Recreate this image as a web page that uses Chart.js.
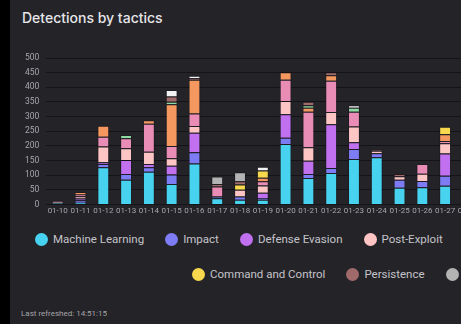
<!DOCTYPE html>
<html>
<head>
<meta charset="utf-8">
<script src="https://cdn.jsdelivr.net/npm/chart.js@4.4.1/dist/chart.umd.min.js"></script>
<style>
  html, body { margin: 0; padding: 0; background: #000; width: 461px; height: 324px; overflow: hidden; }
  #panel { position: absolute; left: 10px; top: 0; width: 470px; height: 324px; background: #242328; overflow: hidden; }
  #title { position: absolute; left: 12px; top: 9px; color: #e6e6e8; font: 500 14px Inter, sans-serif; }
  #wrap { position: absolute; left: 8px; top: 46px; width: 462px; height: 172px; }
  .row { position: absolute; display: flex; align-items: center; white-space: nowrap; font: 11.5px Roboto, sans-serif; color: #c4c4c8; }
  .item { display: flex; align-items: center; margin-right: 21px; }
  .dot { width: 13px; height: 13px; border-radius: 50%; margin-right: 5px; }
  #refreshed { position: absolute; left: 11px; top: 309px; color: #a4a4a8; font: 8px Roboto, sans-serif; }
</style>
</head>
<body>
<div id="panel">
  <div id="title">Detections by tactics</div>
  <div id="wrap"><canvas id="tacticsChart"></canvas></div>
  <div class="row" id="row1" style="left:25px; top:232px;"></div>
  <div class="row" id="row2" style="left:182px; top:267px;"></div>
  <div id="refreshed">Last refreshed: 14:51:15</div>
</div>
<script>
// dates on the x axis (01-28 is only partly visible, no bar shown)
const days = ['01-10','01-11','01-12','01-13','01-14','01-15','01-16','01-17','01-18','01-19',
              '01-20','01-21','01-22','01-23','01-24','01-25','01-26','01-27','01-28'];

// detections per tactic
const machineLearning = [4, 6, 127, 84, 112, 70, 140, 21, 16, 16, 206, 90, 107, 155, 161, 57, 59, 64, null];
const impact          = [2, 8, 11, 20, 15, 32, 38, 6, 11, 6, 22, 14, 17, 34, 14, 27, 21, 34, null];
const defenseEvasion  = [0, 6, 6, 48, 11, 30, 67, 0, 0, 18, 80, 45, 150, 23, 0, 0, 0, 76, null];
const postExploit     = [4, 8, 54, 40, 42, 26, 23, 0, 23, 25, 45, 46, 42, 54, 8, 12, 25, 35, null];
const credAccess      = [3, 6, 33, 34, 96, 42, 43, 34, 0, 14, 73, 122, 107, 51, 0, 0, 33, 8, null];
const exploit         = [0, 8, 38, 0, 12, 142, 115, 0, 0, 12, 26, 13, 18, 0, 0, 0, 0, 23, null];
const execution       = [0, 0, 0, 11, 0, 9, 0, 0, 0, 0, 0, 9, 0, 13, 0, 0, 0, 0, null];
const commandControl  = [0, 0, 0, 0, 0, 0, 0, 0, 18, 25, 0, 0, 0, 0, 0, 0, 0, 25, null];
const persistence     = [0, 0, 0, 0, 0, 18, 5, 9, 11, 0, 0, 12, 11, 0, 4, 8, 0, 0, null];
const discovery       = [0, 0, 0, 0, 0, 0, 0, 25, 31, 0, 0, 0, 0, 0, 0, 0, 0, 0, null];
const other           = [0, 0, 0, 0, 0, 22, 9, 0, 0, 13, 0, 0, 0, 9, 0, 0, 0, 0, null];

const yTicks = [0, 50, 100, 150, 200, 250, 300, 350, 400, 450, 500];

// tactic name, values, colour -- order is the stack order (bottom first)
const tactics = [
  ['Machine Learning', machineLearning, '#47d3f0'],
  ['Impact', impact, '#7d7cf5'],
  ['Defense Evasion', defenseEvasion, '#c170f0'],
  ['Post-Exploit', postExploit, '#fec5c4'],
  ['Credential Access', credAccess, '#ea8db6'],
  ['Exploit', exploit, '#f5985f'],
  ['Execution', execution, '#8fd9a2'],
  ['Command and Control', commandControl, '#f8d94e'],
  ['Persistence', persistence, '#a06a6a'],
  ['Discovery', discovery, '#b3b3b3'],
  ['Other', other, '#f2f2f2'],
];

const ctx = document.getElementById('tacticsChart').getContext('2d');

let tacticsChart = new Chart(ctx, {
  type: 'bar',
  data: {
    labels: days,
    datasets: tactics.map(t => ({
      label: t[0],
      data: t[1],
      backgroundColor: t[2],
      borderColor: 'rgba(20,20,24,0.45)',
      borderWidth: 1,
      barPercentage: 0.62,
      categoryPercentage: 0.84,
    }))
  },
  options: {
    responsive: true,
    maintainAspectRatio: false,
    animation: false,
    plugins: { legend: { display: false }, tooltip: { enabled: false } },
    layout: { padding: { top: 3, right: 0, left: 0, bottom: 0 } },
    scales: {
      x: {
        stacked: true,
        grid: { display: false, drawTicks: false },
        border: { display: false },
        ticks: { color: '#a6a6ac', font: { family: 'Roboto', size: 8 }, padding: 2, maxRotation: 0, autoSkip: false },
      },
      y: {
        stacked: true,
        min: 0,
        max: 500,
        afterBuildTicks: axis => { axis.ticks = yTicks.map(v => ({ value: v })); },
        grid: { color: '#141317', lineWidth: 1, drawTicks: false },
        border: { display: false },
        ticks: { color: '#a6a6ac', font: { family: 'Roboto', size: 8.5 }, padding: 7 },
      }
    }
  }
});

// legend built from the same datasets, two rows like the dashboard
function buildLegend(rowId, from, to) {
  const row = document.getElementById(rowId);
  tactics.slice(from, to).forEach(t => {
    const item = document.createElement('div');
    item.className = 'item';
    item.innerHTML = '<span class="dot" style="background:' + t[2] + '"></span><span>' + t[0] + '</span>';
    row.appendChild(item);
  });
}
buildLegend('row1', 0, 7);
buildLegend('row2', 7, 11);
</script>
</body>
</html>
